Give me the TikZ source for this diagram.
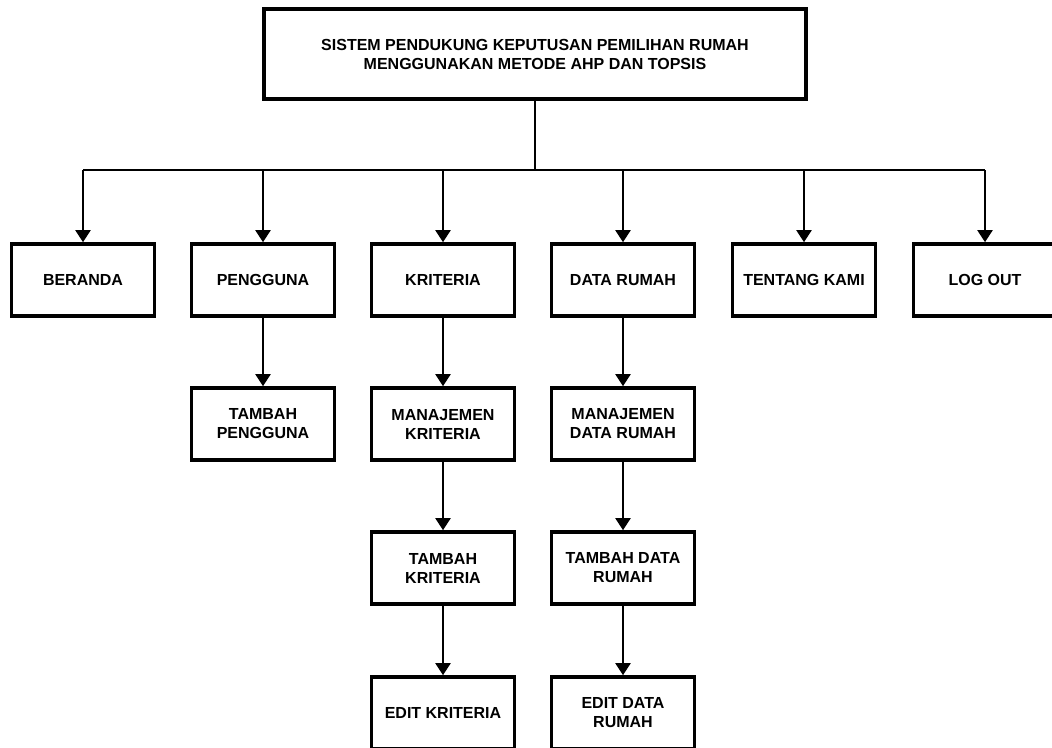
\documentclass[tikz,border=0pt]{standalone}
\usepackage{fontspec}
\setmainfont{Liberation Sans}
\usetikzlibrary{arrows.meta}
\tikzstyle{every node}=[font=\bfseries\fontsize{16}{19}\selectfont]
\tikzstyle{menu}=[draw=black,line width=3.6pt,minimum width=143pt,minimum height=72pt,align=center,inner sep=2pt]
\tikzstyle{link}=[line width=2pt]
\tikzstyle{arrow}=[line width=2pt,-{Triangle[length=12pt,width=15pt]}]

\begin{document}
\begin{tikzpicture}[x=1pt,y=-1pt]
    \useasboundingbox (0,0) rectangle (1052,747);
    \node[menu,minimum width=542pt,minimum height=90pt] (title) at (535,54)
        {SISTEM PENDUKUNG KEPUTUSAN PEMILIHAN RUMAH\\MENGGUNAKAN METODE AHP DAN TOPSIS};
    % menu utama
    \node[menu] (beranda) at (83,280) {BERANDA};
    \node[menu] (pengguna) at (263,280) {PENGGUNA};
    \node[menu] (kriteria) at (443,280) {KRITERIA};
    \node[menu] (datarumah) at (623,280) {DATA RUMAH};
    \node[menu] (tentang) at (804,280) {TENTANG KAMI};
    \node[menu] (logout) at (985,280) {LOG OUT};
    % sub menu
    \node[menu] (tambahpengguna) at (263,424) {TAMBAH\\PENGGUNA};
    \node[menu] (manajemenkriteria) at (443,424) {MANAJEMEN\\KRITERIA};
    \node[menu] (tambahkriteria) at (443,568) {TAMBAH\\KRITERIA};
    \node[menu] (editkriteria) at (443,713) {EDIT KRITERIA};
    \node[menu] (manajemenrumah) at (623,424) {MANAJEMEN\\DATA RUMAH};
    \node[menu] (tambahrumah) at (623,568) {TAMBAH DATA\\RUMAH};
    \node[menu] (editrumah) at (623,713) {EDIT DATA\\RUMAH};

    \coordinate (bus) at (535,170);
    \draw[link] (title.south) -- (bus);
    \draw[link] (beranda.north |- bus) -- (logout.north |- bus);
    \foreach \n in {beranda,pengguna,kriteria,datarumah,tentang,logout}
        \draw[arrow] (\n.north |- bus) -- (\n.north);
    \draw[arrow] (pengguna) -- (tambahpengguna);
    \draw[arrow] (kriteria) -- (manajemenkriteria);
    \draw[arrow] (manajemenkriteria) -- (tambahkriteria);
    \draw[arrow] (tambahkriteria) -- (editkriteria);
    \draw[arrow] (datarumah) -- (manajemenrumah);
    \draw[arrow] (manajemenrumah) -- (tambahrumah);
    \draw[arrow] (tambahrumah) -- (editrumah);
\end{tikzpicture}
\end{document}
